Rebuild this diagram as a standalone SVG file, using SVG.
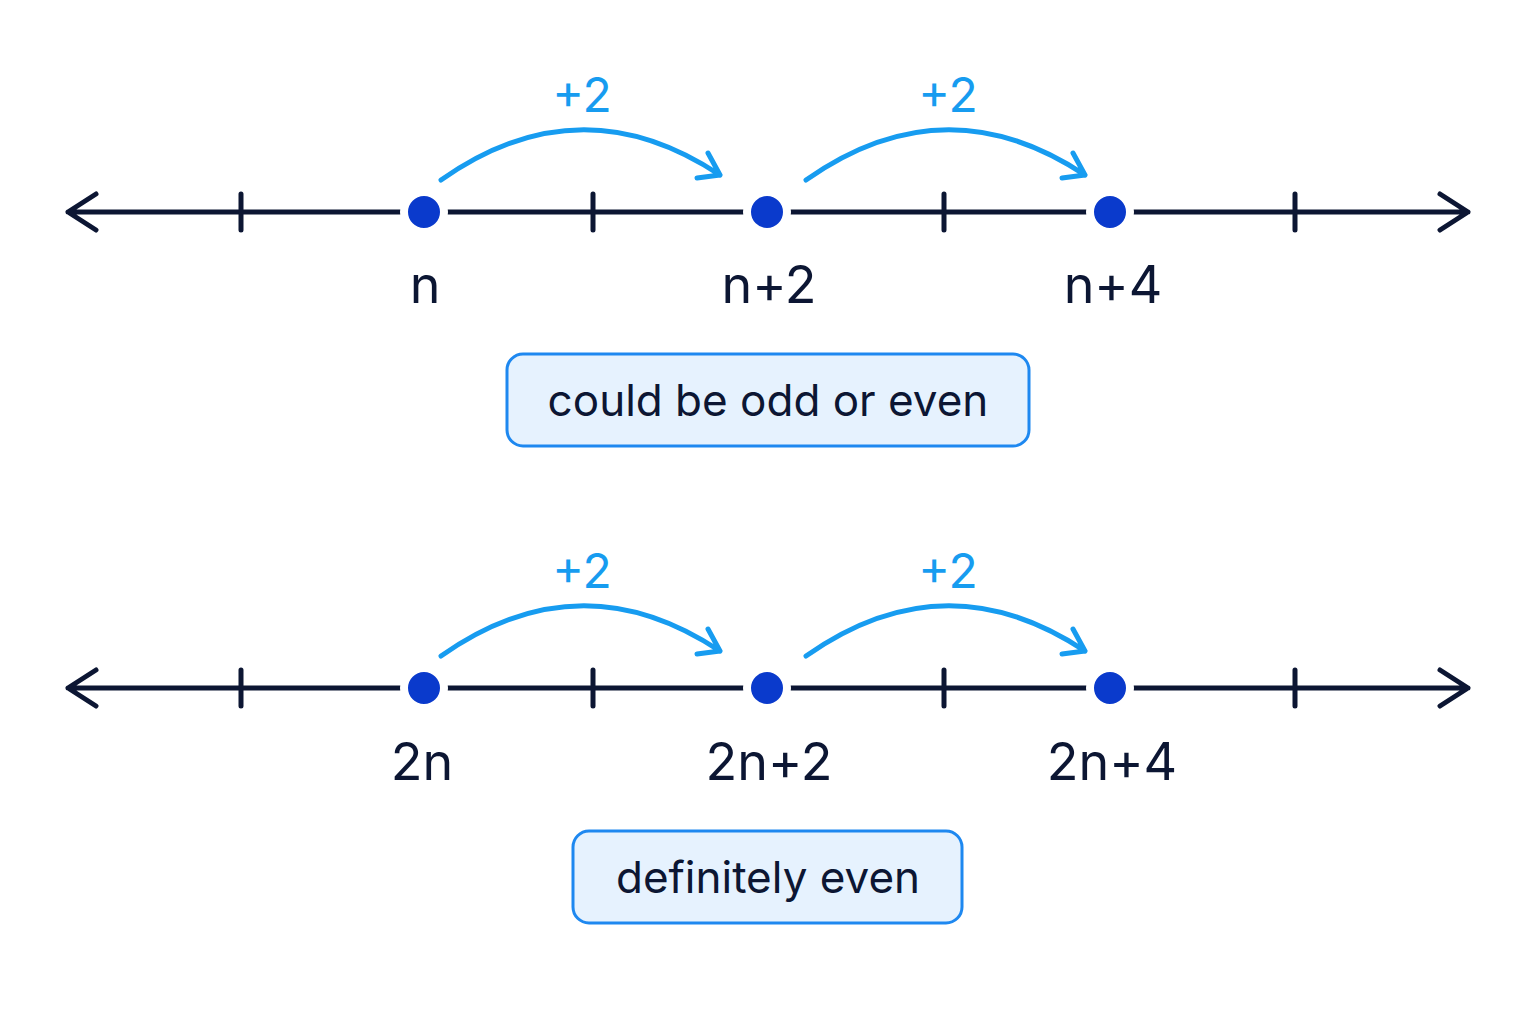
<svg xmlns="http://www.w3.org/2000/svg" width="1536" height="1024" viewBox="0 0 1536 1024">
<defs>
<style>
.axis{stroke:#0c1633;stroke-width:5;fill:none;stroke-linecap:round;stroke-linejoin:round}
.jump{stroke:#179cf0;stroke-width:5;fill:none;stroke-linecap:round;stroke-linejoin:round}
.dot{fill:#0a3acc;stroke:#fff;stroke-width:8}
.lbl{font-family:Inter,"Noto Sans",sans-serif;font-size:52px;fill:#0c1633;text-anchor:middle}
.plus{font-family:Inter,"Noto Sans",sans-serif;font-size:48px;fill:#179cf0;text-anchor:middle}
.box{fill:#e6f2fe;stroke:#1e88f0;stroke-width:3}
.btxt{font-family:Inter,"Noto Sans",sans-serif;font-size:44px;fill:#0c1633;text-anchor:middle}
</style>
<g id="line">
<path class="axis" d="M68 0H1468M96-18L68 0L96 18M1440-18L1468 0L1440 18M241-18V18M593-18V18M944-18V18M1295-18V18"/>
</g>
<g id="jumps">
<path class="jump" d="M441-32Q580-130 720-37M708-59L720-37L697-34"/>
<path class="jump" d="M806-32Q945-130 1085-37M1073-59L1085-37L1062-34"/>
</g>
</defs>
<g id="connectors">
<use href="#line" y="212"/><use href="#jumps" y="212"/>
<use href="#line" y="688"/><use href="#jumps" y="688"/>
</g>
<g id="top">
<circle class="dot" cx="424" cy="212" r="20"/><circle class="dot" cx="767" cy="212" r="20"/><circle class="dot" cx="1110" cy="212" r="20"/>
<text class="plus" x="582" y="112">+2</text><text class="plus" x="948" y="112">+2</text>
<text class="lbl" x="425" y="303">n</text><text class="lbl" x="769" y="303">n+2</text><text class="lbl" x="1113" y="303">n+4</text>
</g>
<g id="box1"><rect class="box" x="507" y="354" width="522" height="92" rx="16"/><text class="btxt" x="768" y="416">could be odd or even</text></g>
<g id="bottom">
<circle class="dot" cx="424" cy="688" r="20"/><circle class="dot" cx="767" cy="688" r="20"/><circle class="dot" cx="1110" cy="688" r="20"/>
<text class="plus" x="582" y="588">+2</text><text class="plus" x="948" y="588">+2</text>
<text class="lbl" x="422" y="780">2n</text><text class="lbl" x="769" y="780">2n+2</text><text class="lbl" x="1112" y="780">2n+4</text>
</g>
<g id="box2"><rect class="box" x="573" y="831" width="389" height="92" rx="16"/><text class="btxt" x="768" y="893">definitely even</text></g>
</svg>
